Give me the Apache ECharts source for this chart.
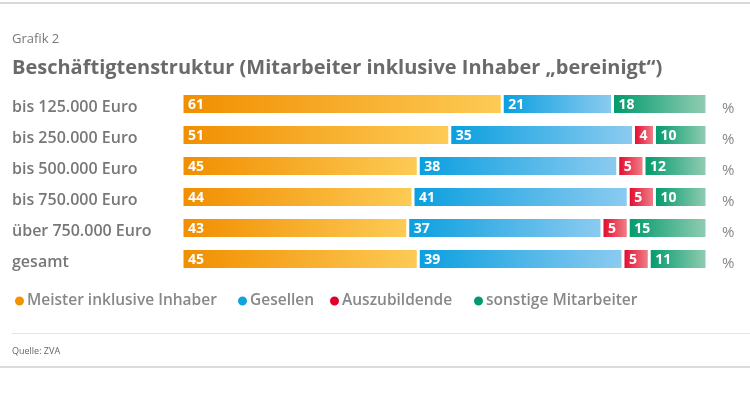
<!DOCTYPE html>
<html><head><meta charset="utf-8">
<script src="https://cdn.jsdelivr.net/npm/echarts@6/dist/echarts.min.js"></script>
<style>html,body{margin:0;padding:0;background:#fff}#c{width:750px;height:395px}</style>
</head><body><div id="c"></div>
<script>
const categories = ['bis 125.000 Euro','bis 250.000 Euro','bis 500.000 Euro','bis 750.000 Euro','über 750.000 Euro','gesamt'];
const meister = [61,51,45,44,43,45];
const gesellen = [21,35,38,41,37,39];
const azubis = [0,4,5,5,5,5];
const sonstige = [18,10,12,10,15,11];
const seriesNames = ['Meister inklusive Inhaber','Gesellen','Auszubildende','sonstige Mitarbeiter'];
const unitLabels = ['%','%','%','%','%','%'];

const chart = echarts.init(document.getElementById('c'));
const F = 'Open Sans, Lato, sans-serif';
function grad(a,b){return new echarts.graphic.LinearGradient(0,0,1,0,[{offset:0,color:a},{offset:1,color:b}]);}
const cols = [['#F18E00','#FDCB55'],['#0A9FDF','#8CCBF0'],['#E2062C','#F0868C'],['#009A6C','#93CDB3']];
const solid = ['#F39200','#0FA3E0','#E3002B','#009A6E'];
const data = [meister,gesellen,azubis,sonstige];
const legendLeft = [13,236,328,472];
function mk(i){
  return {
    name: seriesNames[i], type:'bar', stack:'s', barWidth:21,
    data: data[i].map(v=>v===0?null:v),
    itemStyle:{color:grad(cols[i][0],cols[i][1]),borderColor:'#fff',borderWidth:1.5},
    label:{show:true,position:'insideLeft',color:'#fff',fontFamily:F,fontWeight:'bold',fontSize:14,offset:[1,1]},
    emphasis:{disabled:true}
  };
}
chart.setOption({
  animation:false,
  color: solid,
  title:[
    {text:'Grafik 2',left:7,top:28,textStyle:{fontFamily:F,fontSize:13,fontWeight:'normal',color:'#777'}},
    {text:'Beschäftigtenstruktur (Mitarbeiter inklusive Inhaber \u201ebereinigt\u201c)',left:7,top:53,textStyle:{fontFamily:F,fontSize:20,fontWeight:'bold',color:'#6a6a6a'}},
    {text:'Quelle: ZVA',left:7,top:342,textStyle:{fontFamily:F,fontSize:9,fontWeight:'normal',color:'#666'}}
  ],
  legend: seriesNames.map((n,i)=>({
    left:legendLeft[i],top:293,padding:0,icon:'circle',itemWidth:11,itemHeight:11,
    textStyle:{fontFamily:F,fontSize:15.5,fontWeight:600,color:'#888',padding:[0,0,0,-3]},
    data:[{name:n,itemStyle:{color:solid[i]}}]
  })),
  grid:{left:182,right:43,top:88.5,height:186},
  xAxis:{type:'value',min:0,max:100,show:false},
  yAxis:[
    {type:'category',data:categories,inverse:true,axisLine:{show:false},axisTick:{show:false},
     axisLabel:{align:'left',margin:170,fontFamily:F,fontSize:16,fontWeight:600,color:'#777',verticalAlign:'top',lineHeight:7}},
    {type:'category',data:unitLabels,inverse:true,position:'right',axisLine:{show:false},axisTick:{show:false},
     axisLabel:{margin:15,fontFamily:F,fontSize:15,color:'#888',verticalAlign:'top',lineHeight:9}}
  ],
  series:[mk(0),mk(1),mk(2),mk(3)],
  graphic:[
    {type:'rect',shape:{x:0,y:2,width:750,height:2},style:{fill:'#d8d8d8'}},
    {type:'rect',shape:{x:12,y:333,width:738,height:1},style:{fill:'#e4e4e4'}},
    {type:'rect',shape:{x:0,y:366,width:750,height:2},style:{fill:'#dcdcdc'}}
  ]
});
</script></body></html>
